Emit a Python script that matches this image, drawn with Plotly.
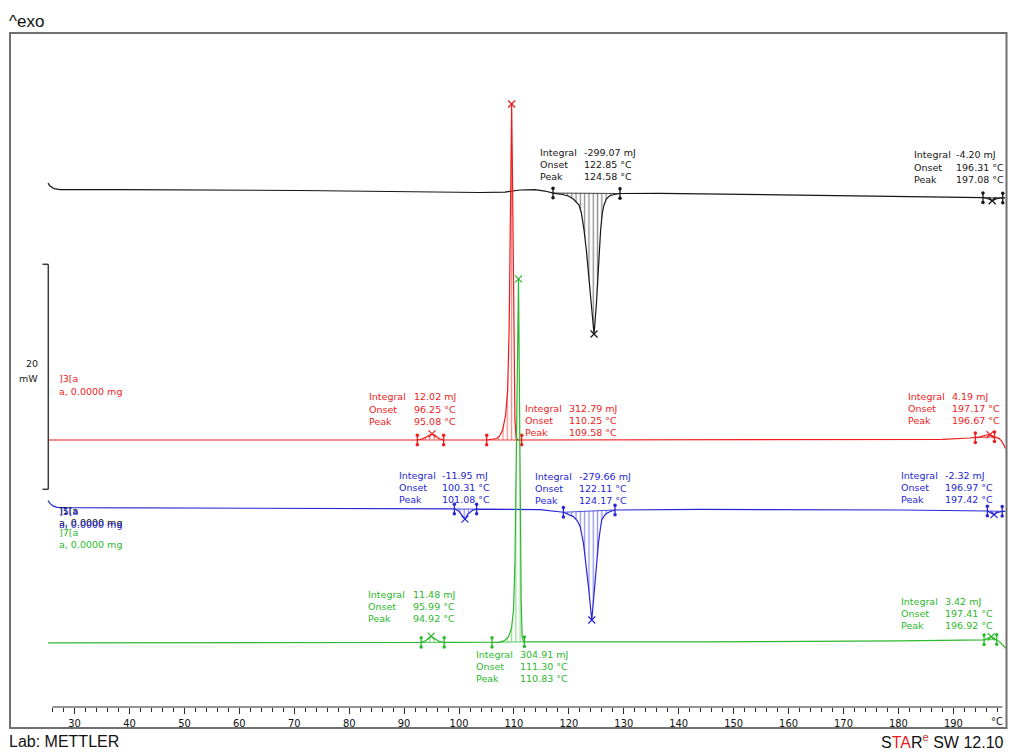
import numpy as np
import plotly.graph_objects as go

# ---------------- measured curves (temperature °C, heat flow mW, exo up) ----------------
c1_temp = [25.16, 25.52, 26.25, 27.34, 38.27, 71.04, 103.82, 108.37, 111.10, 113.83, 115.65, 117.11,
           118.81, 119.90, 120.81, 121.85, 122.27, 122.76, 123.18, 123.67, 124.09, 124.58, 125.00,
           125.27, 125.55, 125.78, 126.09, 126.40, 126.82, 127.37, 128.28, 129.31, 136.59, 162.08,
           180.29, 193.95, 195.40, 196.20, 196.70, 197.08, 197.50, 198.00, 199.00, 199.50]
c1_flow = [0.62, 0.36, 0.13, 0.04, 0.04, -0.04, -0.22, -0.18, 0.00, 0.04, -0.09, -0.27,
           -0.40, -0.53, -0.80, -1.33, -2.04, -3.56, -5.33, -7.73, -10.22, -12.80, -10.22,
           -7.73, -5.33, -3.56, -2.04, -1.33, -0.80, -0.53, -0.40, -0.31, -0.29, -0.44,
           -0.58, -0.66, -0.68, -0.75, -0.85, -0.95, -0.85, -0.75, -0.70, -0.70]

c3_temp = [25.16, 52.83, 89.25, 92.40, 93.30, 94.00, 94.60, 95.08, 95.60, 96.20, 96.80, 97.20,
           105.04, 106.12, 106.85, 107.39, 107.94, 108.48, 108.85, 109.12, 109.30, 109.45, 109.58,
           109.72, 109.85, 110.00, 110.18, 110.40, 110.67, 111.41, 150.00, 188.00, 193.00, 194.00,
           194.90, 195.80, 196.67, 197.20, 197.50, 198.30, 198.80, 199.20, 199.50]
c3_flow = [0.00, 0.00, 0.02, 0.00, 0.08, 0.25, 0.45, 0.55, 0.42, 0.18, 0.05, 0.00,
           0.00, 0.04, 0.13, 0.36, 0.89, 2.22, 4.44, 9.78, 16.90, 24.00, 29.87,
           24.00, 16.00, 8.00, 1.78, 0.27, 0.00, 0.00, 0.02, 0.05, 0.18, 0.20,
           0.28, 0.42, 0.48, 0.36, 0.28, 0.15, -0.10, -0.45, -0.75]

c5_temp = [25.16, 25.52, 26.07, 26.80, 28.25, 52.80, 96.50, 99.15, 99.90, 100.50, 101.08, 101.60,
           102.40, 103.20, 114.74, 119.00, 119.92, 120.83, 121.56, 122.05, 122.65, 123.11, 123.57,
           124.17, 124.48, 124.79, 125.08, 125.39, 125.70, 125.99, 126.48, 126.90, 127.57, 128.40,
           143.87, 180.29, 196.20, 196.80, 197.42, 197.90, 198.90, 199.50]
c5_flow = [0.65, 0.40, 0.18, 0.06, 0.03, 0.00, -0.09, -0.09, -0.25, -0.60, -1.00, -0.55,
           -0.22, -0.10, -0.15, -0.38, -0.58, -0.77, -1.16, -1.66, -3.11, -4.89, -7.00,
           -9.96, -8.18, -7.00, -5.07, -3.11, -1.96, -1.07, -0.67, -0.47, -0.31, -0.18,
           -0.13, -0.18, -0.27, -0.40, -0.60, -0.42, -0.30, -0.30]

c7_temp = [25.16, 71.04, 89.25, 93.10, 93.90, 94.50, 94.92, 95.40, 96.30, 97.30, 106.00, 107.37,
           108.28, 109.01, 109.56, 109.92, 110.19, 110.41, 110.61, 110.83, 110.98, 111.12, 111.31,
           111.49, 111.74, 111.90, 143.87, 180.29, 194.80, 195.60, 196.30, 196.92, 197.40, 197.90,
           198.40, 199.00, 199.50]
c7_flow = [0.00, 0.00, 0.05, 0.05, 0.20, 0.45, 0.60, 0.45, 0.15, 0.05, 0.05, 0.08,
           0.20, 0.55, 1.33, 2.93, 7.38, 14.50, 23.40, 32.36, 23.40, 12.70, 3.82,
           0.60, 0.12, 0.10, 0.09, 0.18, 0.25, 0.28, 0.42, 0.55, 0.42, 0.30,
           0.12, -0.18, -0.47]

# ---------------- peak evaluations ----------------
c1_limits = [(117.11, 129.31), (195.40, 199.00)]
c1_integral = [-299.07, -4.20]
c1_onset = [122.85, 196.31]
c1_peak = [124.58, 197.08]

c3_limits = [(92.40, 97.20), (105.04, 111.41), (194.00, 197.50)]
c3_integral = [12.02, 312.79, 4.19]
c3_onset = [96.25, 110.25, 197.17]
c3_peak = [95.08, 109.58, 196.67]

c5_limits = [(99.15, 103.20), (119.00, 128.40), (196.20, 198.90)]
c5_integral = [-11.95, -279.66, -2.32]
c5_onset = [100.31, 122.11, 196.97]
c5_peak = [101.08, 124.17, 197.42]

c7_limits = [(93.10, 97.30), (106.00, 111.90), (195.60, 197.90)]
c7_integral = [11.48, 304.91, 3.42]
c7_onset = [95.99, 111.30, 197.41]
c7_peak = [94.92, 110.83, 196.92]

tick_values = list(range(30, 200, 10))
scale_mw = 20

# ---------------- page geometry (pixels) ----------------
W, H = 1012, 752
PL, PR, PT, PB = 45, 1007, 33, 728
PX_PER_C = 5.492
PX_PER_MW = 11.25
X_RANGE = [105 + (PL - 486.5) / PX_PER_C, 105 + (PR - 486.5) / PX_PER_C]
Y_RANGE = [0, (PB - PT) / PX_PER_MW]
AXIS_PY = 707


def px(x):
    return (x - PL) / (PR - PL)


def py(y):
    return (PB - y) / (PB - PT)


TXT = "DejaVu Sans, Verdana, sans-serif"
AXF = "Liberation Sans Narrow, DejaVu Sans Condensed, Liberation Sans, Arial"
BLACK, RED, BLUE, GREEN = "#151515", "#ee1c1c", "#2626d6", "#2db82d"

curves = [
    dict(temp=c1_temp, flow=c1_flow, offset=47.82, color=BLACK, limits=c1_limits,
         integral=c1_integral, onset=c1_onset, peak=c1_peak,
         text_at=[(538, 582, 152), (912, 954, 155)]),
    dict(temp=c5_temp, flow=c5_flow, offset=19.56, color=BLUE, limits=c5_limits,
         integral=c5_integral, onset=c5_onset, peak=c5_peak,
         text_at=[(397, 440, 475), (533, 577, 476), (899, 943, 475)]),
    dict(temp=c3_temp, flow=c3_flow, offset=25.60, color=RED, limits=c3_limits,
         integral=c3_integral, onset=c3_onset, peak=c3_peak,
         text_at=[(367, 412, 397), (523, 567, 408), (906, 950, 396)]),
    dict(temp=c7_temp, flow=c7_flow, offset=7.56, color=GREEN, limits=c7_limits,
         integral=c7_integral, onset=c7_onset, peak=c7_peak,
         text_at=[(366, 411, 594), (474, 518, 654), (899, 943, 601)]),
]

fig = go.Figure()
annotations = []


def segment(temp, flow, t0, t1):
    temp = np.asarray(temp, float)
    flow = np.asarray(flow, float)
    inside = (temp > t0) & (temp < t1)
    xs = np.concatenate([[t0], temp[inside], [t1]])
    ys = np.concatenate([[np.interp(t0, temp, flow)], flow[inside], [np.interp(t1, temp, flow)]])
    return xs, ys


for c in curves:
    temp = np.asarray(c["temp"], float)
    flow = np.asarray(c["flow"], float) + c["offset"]
    col = c["color"]

    # hatched integration areas
    for (t0, t1) in c["limits"]:
        xs, ys = segment(temp, flow, t0, t1)
        fig.add_trace(go.Scatter(x=[t0, t1], y=[ys[0], ys[-1]], mode="lines",
                                 line=dict(color=col, width=0.8), hoverinfo="skip"))
        fig.add_trace(go.Scatter(x=xs, y=ys, mode="lines", line=dict(width=0, color=col),
                                 fill="tonexty", fillcolor="rgba(0,0,0,0)",
                                 fillpattern=dict(shape="|", size=4.3, solidity=0.3,
                                                  fgcolor=col, bgcolor="rgba(0,0,0,0)",
                                                  fillmode="overlay"),
                                 hoverinfo="skip"))

    # the measured curve
    fig.add_trace(go.Scatter(x=temp, y=flow, mode="lines",
                             line=dict(color=col, width=1.2), hoverinfo="skip"))

    # integration limit brackets
    bx, by, dx, dy = [], [], [], []
    for (t0, t1) in c["limits"]:
        for t in (t0, t1):
            yv = float(np.interp(t, temp, flow))
            bx += [t, t, None]
            by += [yv - 0.42, yv + 0.42, None]
            dx += [t, t]
            dy += [yv - 0.42, yv + 0.42]
    fig.add_trace(go.Scatter(x=bx, y=by, mode="lines", line=dict(color=col, width=1.3),
                             hoverinfo="skip"))
    fig.add_trace(go.Scatter(x=dx, y=dy, mode="markers",
                             marker=dict(color=col, size=3.5, symbol="circle"), hoverinfo="skip"))

    # peak markers
    pk_y = [float(np.interp(p, temp, flow)) for p in c["peak"]]
    fig.add_trace(go.Scatter(x=c["peak"], y=pk_y, mode="markers",
                             marker=dict(symbol="x-thin-open", size=7, color=col,
                                         line=dict(color=col, width=1.2)),
                             hoverinfo="skip"))

    # evaluation results
    for (lx, vx, y0), integ, ons, pk in zip(c["text_at"], c["integral"], c["onset"], c["peak"]):
        rows = [("Integral", f"{integ:.2f} mJ"), ("Onset", f"{ons:.2f} °C"), ("Peak", f"{pk:.2f} °C")]
        for i, (lab, val) in enumerate(rows):
            yy = y0 + 12.2 * i
            for xx, tx in ((lx, lab), (vx, val)):
                annotations.append(dict(x=px(xx), y=py(yy), xref="paper", yref="paper",
                                        text=tx, showarrow=False, xanchor="left",
                                        yanchor="middle",
                                        font=dict(family=TXT, size=9.5, color=col)))

# curve identifiers beside the scale bar
ident = [("]3[a", 378, RED), ("a, 0.0000 mg", 391, RED),
         ("]1[a", 510, BLACK), ("a, 0.0000 mg", 522.5, BLACK),
         ("]5[a", 511.5, BLUE), ("a, 0.0000 mg", 524.5, BLUE),
         ("]7[a", 532, GREEN), ("a, 0.0000 mg", 544, GREEN)]
for tx, yy, col in ident:
    annotations.append(dict(x=px(57), y=py(yy), xref="paper", yref="paper", text=tx,
                            showarrow=False, xanchor="left", yanchor="middle",
                            font=dict(family=TXT, size=9.5, color=col)))

# scale bar (20 mW)
sb_bottom = (PB - 489.3) / PX_PER_MW
shapes = [
    dict(type="line", xref="paper", yref="y", x0=px(48.3), x1=px(48.3),
         y0=sb_bottom, y1=sb_bottom + scale_mw, line=dict(color="#3a3a3a", width=1.5)),
    dict(type="line", xref="paper", yref="y", x0=px(42.5), x1=px(48.3),
         y0=sb_bottom, y1=sb_bottom, line=dict(color="#3a3a3a", width=1.5)),
    dict(type="line", xref="paper", yref="y", x0=px(42.5), x1=px(48.3),
         y0=sb_bottom + scale_mw, y1=sb_bottom + scale_mw, line=dict(color="#3a3a3a", width=1.5)),
    # frame
    dict(type="rect", xref="paper", yref="paper", x0=px(10), x1=px(1006.5), y0=0, y1=1,
         line=dict(color="#707070", width=2), fillcolor="rgba(0,0,0,0)"),
    # temperature axis line
    dict(type="line", xref="x", yref="paper", x0=25.95, x1=198.95, y0=py(AXIS_PY), y1=py(AXIS_PY),
         line=dict(color="#2a2a2a", width=1)),
]
annotations += [
    dict(x=px(40), y=py(364), xref="paper", yref="paper", text=str(scale_mw), showarrow=False,
         xanchor="right", yanchor="middle", font=dict(family=TXT, size=9.5, color="#222")),
    dict(x=px(40), y=py(378), xref="paper", yref="paper", text="mW", showarrow=False,
         xanchor="right", yanchor="middle", font=dict(family=TXT, size=9.5, color="#222")),
    dict(x=px(997), y=py(721), xref="paper", yref="paper", text="°C", showarrow=False,
         xanchor="center", yanchor="middle", font=dict(family=AXF, size=11, color="#111")),
    dict(x=px(7), y=py(21), xref="paper", yref="paper", text="^exo", showarrow=False,
         xanchor="left", yanchor="middle",
         font=dict(family="Liberation Sans, Arial", size=17, color="#111")),
    dict(x=px(7), y=py(741), xref="paper", yref="paper", text="Lab: METTLER", showarrow=False,
         xanchor="left", yanchor="middle",
         font=dict(family="Liberation Sans, Arial", size=16, color="#111")),
    dict(x=px(1006), y=py(741), xref="paper", yref="paper",
         text="S<span style='color:#e41b1b'>TA</span>R<sup><span style='color:#c0392b'>e</span></sup> SW 12.10",
         showarrow=False, xanchor="right", yanchor="middle",
         font=dict(family="Liberation Sans, Arial", size=16, color="#111")),
]

fig.update_layout(
    width=W, height=H,
    margin=dict(l=PL, r=W - PR, t=PT, b=H - PB, pad=0),
    paper_bgcolor="white", plot_bgcolor="white",
    showlegend=False,
    xaxis=dict(range=X_RANGE, anchor="free", position=py(AXIS_PY), showline=False,
               showgrid=False, zeroline=False, ticks="outside", ticklen=6, tickwidth=1,
               tickcolor="#2a2a2a", tickvals=tick_values, ticktext=[str(v) for v in tick_values],
               tickfont=dict(family=AXF, size=11, color="#111"),
               minor=dict(ticks="outside", ticklen=3.5, tickwidth=1, tickcolor="#2a2a2a",
                          tick0=0, dtick=2, showgrid=False)),
    yaxis=dict(range=Y_RANGE, visible=False, fixedrange=True),
    shapes=shapes,
    annotations=annotations,
)

fig.write_html("out.html")
